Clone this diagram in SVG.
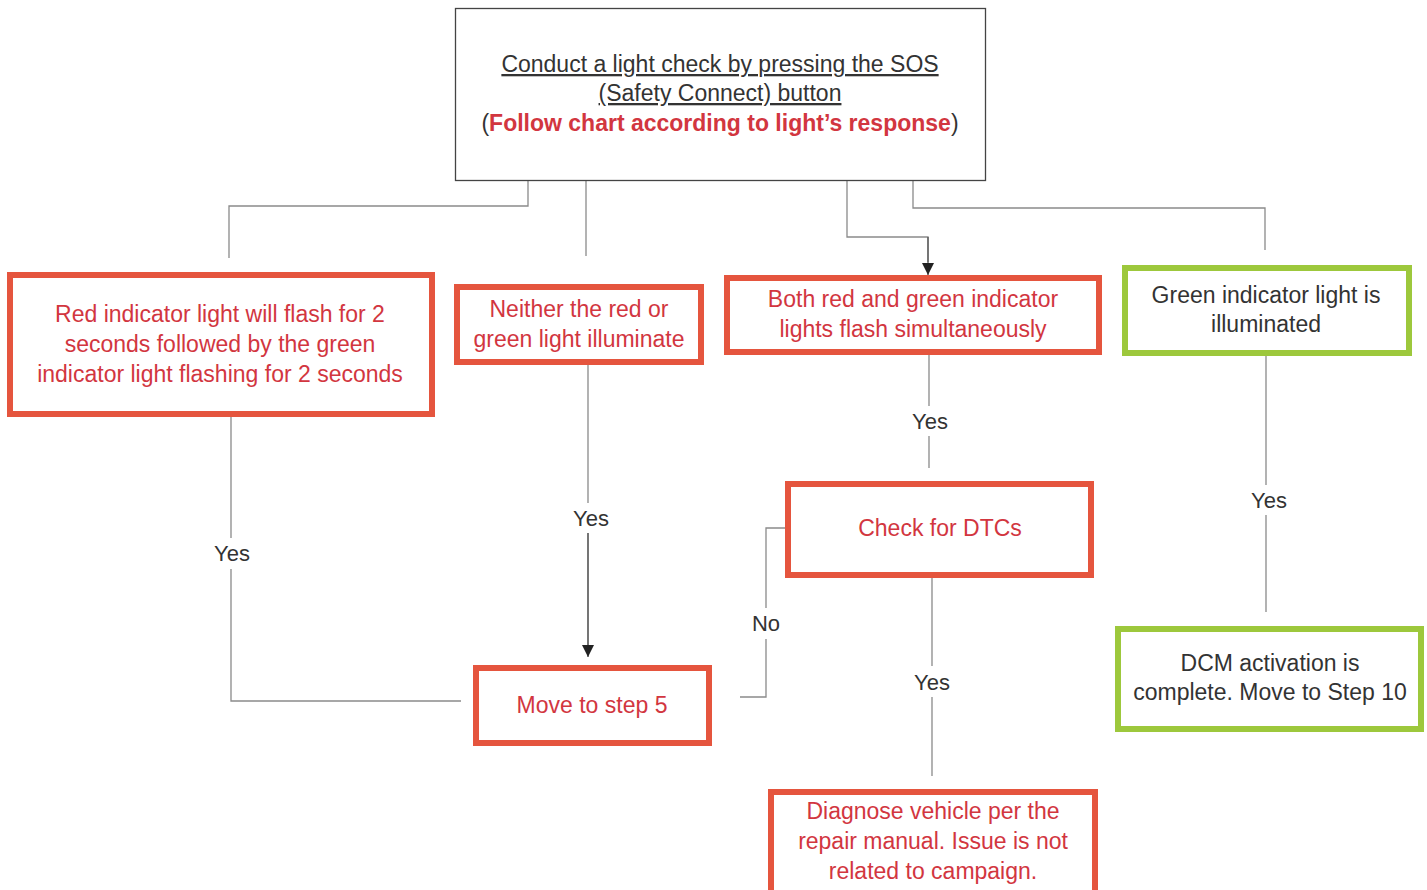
<svg xmlns="http://www.w3.org/2000/svg" width="1427" height="890" viewBox="0 0 1427 890">
<defs>
<marker id="arr" viewBox="0 0 10 10" refX="10" refY="5" markerWidth="16" markerHeight="12" markerUnits="userSpaceOnUse" orient="auto">
<path d="M0,0 L10,5 L0,10 z" fill="#222"/>
</marker>
<style>
.t{font-family:"Liberation Sans",Arial,sans-serif;font-size:23px;text-anchor:middle}
.red{fill:#d2363f}
.dk{fill:#333}
.rb{fill:#fff;stroke:#e5553e;stroke-width:6}
.gb{fill:#fff;stroke:#9dc83c;stroke-width:6}
.c{fill:none;stroke:#8a8a8a;stroke-width:1.3}
.lbl{font-family:"Liberation Sans",Arial,sans-serif;font-size:22px;text-anchor:middle;fill:#333}
</style>
</defs>
<rect width="1427" height="890" fill="#fff"/>
<g id="connectors">
<path class="c" d="M528,180 V206 H229 V258"/>
<path class="c" d="M586,180 V256"/>
<path class="c" d="M847,180 V237 H928 V262"/>
<path d="M928,237 V275" fill="none" stroke="#555" stroke-width="1.3" marker-end="url(#arr)"/>
<path class="c" d="M913,180 V208 H1265 V250"/>
<path class="c" d="M231,414 V538 M231,569 V701 H461"/>
<path class="c" d="M588,362 V503 M588,533 V645"/>
<path d="M588,533 V657" fill="none" stroke="#555" stroke-width="1.3" marker-end="url(#arr)"/>
<path class="c" d="M929,352 V406 M929,436 V468"/>
<path class="c" d="M788,528 H766 V608 M766,639 V697 H740"/>
<path class="c" d="M932,575 V666 M932,697 V776"/>
<path class="c" d="M1266,353 V485 M1266,515 V612"/>
<text class="lbl" x="232" y="561">Yes</text>
<text class="lbl" x="591" y="526">Yes</text>
<text class="lbl" x="930" y="429">Yes</text>
<text class="lbl" x="766" y="631">No</text>
<text class="lbl" x="932" y="690">Yes</text>
<text class="lbl" x="1269" y="508">Yes</text>
</g>
<g id="start">
<rect x="455.5" y="8.5" width="530" height="172" fill="#fff" stroke="#444" stroke-width="1.3"/>
<text class="t dk" x="720" y="72" font-size="24" text-decoration="underline">Conduct a light check by pressing the SOS</text>
<text class="t dk" x="720" y="101" font-size="24" text-decoration="underline">(Safety Connect) button</text>
<text class="t dk" x="720" y="131" font-size="24">(<tspan class="red" font-weight="bold">Follow chart according to light’s response</tspan>)</text>
</g>
<g id="n-redgreen">
<rect class="rb" x="10" y="275" width="422" height="139"/>
<text class="t red" x="220" y="322">Red indicator light will flash for 2</text>
<text class="t red" x="220" y="352">seconds followed by the green</text>
<text class="t red" x="220" y="382">indicator light flashing for 2 seconds</text>
</g>
<g id="n-neither">
<rect class="rb" x="457" y="287" width="244" height="75"/>
<text class="t red" x="579" y="317">Neither the red or</text>
<text class="t red" x="579" y="347">green light illuminate</text>
</g>
<g id="n-both">
<rect class="rb" x="727" y="278" width="372" height="74"/>
<text class="t red" x="913" y="307">Both red and green indicator</text>
<text class="t red" x="913" y="337">lights flash simultaneously</text>
</g>
<g id="n-green">
<rect class="gb" x="1125" y="268" width="284" height="85"/>
<text class="t dk" x="1266" y="303">Green indicator light is</text>
<text class="t dk" x="1266" y="332">illuminated</text>
</g>
<g id="n-dtc">
<rect class="rb" x="788" y="484" width="303" height="91"/>
<text class="t red" x="940" y="536">Check for DTCs</text>
</g>
<g id="n-step5">
<rect class="rb" x="476" y="668" width="233" height="75"/>
<text class="t red" x="592" y="713">Move to step 5</text>
</g>
<g id="n-diagnose">
<rect class="rb" x="771" y="792" width="324" height="102"/>
<text class="t red" x="933" y="819">Diagnose vehicle per the</text>
<text class="t red" x="933" y="849">repair manual. Issue is not</text>
<text class="t red" x="933" y="879">related to campaign.</text>
</g>
<g id="n-dcm">
<rect class="gb" x="1118" y="629" width="303" height="100"/>
<text class="t dk" x="1270" y="671">DCM activation is</text>
<text class="t dk" x="1270" y="700">complete. Move to Step 10</text>
</g>
</svg>
